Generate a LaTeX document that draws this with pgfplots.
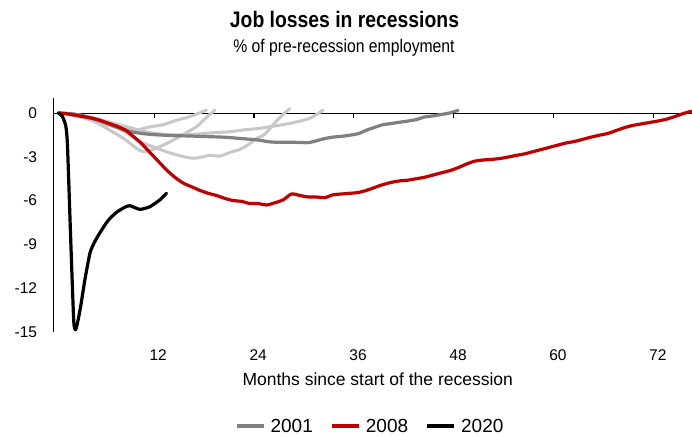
\documentclass[border=0pt]{standalone}
\usepackage{pgfplots}
\pgfplotsset{compat=1.18}
\usepackage{fontspec}
\setmainfont{Liberation Sans}
\newfontfamily\condfont{Liberation Sans}[FakeStretch=0.86]
\definecolor{lgray}{RGB}{200,200,200}
\definecolor{dgray}{RGB}{128,128,128}
\definecolor{ered}{RGB}{192,0,0}
\begin{document}
\begin{tikzpicture}
\path[use as bounding box] (-53.3pt,-104pt) rectangle (638.7pt,332pt);
\begin{axis}[
  at={(0pt,0pt)}, anchor=south west,
  scale only axis, width=638.7pt, height=233.6pt,
  xmin=-0.6, xmax=76.1, ymin=-15, ymax=1,
  clip=false,
  axis lines*=left,
  x axis line style={draw=none},
  y axis line style={black, line width=0.9pt},
  xtick={12,24,36,48,60,72},
  ytick={-15,-12,-9,-6,-3,0},
  tick style={draw=none},
  /pgf/number format/assume math mode=true,
  ticklabel style={font=\fontsize{15.5}{18}\selectfont},
  xticklabel style={anchor=north, inner sep=0pt, yshift=-17pt},
  yticklabel style={anchor=east, inner sep=0pt, xshift=-16pt},
  extra y ticks={0}, extra y tick labels={},
  extra y tick style={grid=major, major grid style={black, line width=0.9pt}},
  xlabel={Months since start of the recession},
  xlabel style={font=\fontsize{17.5}{20}\selectfont, at={(axis description cs:0.508,0)}, anchor=base, yshift=-53pt},
  legend columns=3,
  legend style={at={(axis description cs:0.4943,-0.404)}, anchor=center, draw=none, fill=none,
    inner sep=0pt, font=\fontsize{19}{22}\selectfont,
    nodes={inner sep=0pt, anchor=west},
    /tikz/every odd column/.append style={column sep=5pt},
    /tikz/every even column/.append style={column sep=17pt}},
  legend image code/.code={\draw[#1, line width=4pt, line cap=butt] (0pt,0pt) -- (27pt,0pt);},
  every axis plot/.append style={line cap=round, line join=round},
]
% positions of the x-axis tick marks on the zero line
\coordinate (tka) at (axis cs:11.5,0);
\coordinate (tkb) at (axis cs:23.5,0);
\coordinate (tkc) at (axis cs:35.5,0);
\coordinate (tkd) at (axis cs:47.5,0);
\coordinate (tke) at (axis cs:59.5,0);
\coordinate (tkf) at (axis cs:71.5,0);
% light gray: earlier recessions
\addplot[lgray, line width=3pt, smooth, forget plot] coordinates {
(0,0)(2,-0.15)(4,-0.45)(6,-0.85)(8,-1.1)(9.5,-1.15)(11,-0.95)(12.6,-0.8)(14.2,-0.5)(15.8,-0.25)(17.8,0.2)};
\addplot[lgray, line width=3pt, smooth, forget plot] coordinates {
(0,0)(2,-0.2)(4,-0.5)(5.8,-1.05)(7.8,-1.73)(9.4,-2.42)(10.2,-2.65)(11.4,-2.5)(12.6,-2.2)(13.8,-1.85)(15.2,-1.4)(16.6,-0.94)(17.8,-0.3)(18.8,0.2)};
\addplot[lgray, line width=3pt, smooth, forget plot] coordinates {
(0,0)(2,-0.1)(4,-0.3)(6,-0.7)(8,-1.3)(10,-2.0)(12,-2.45)(13.8,-2.8)(16.2,-3.1)(18.2,-2.9)(19.4,-2.95)(20.6,-2.7)(21.8,-2.5)(23,-2.1)(23.8,-1.75)(24.8,-1.45)(25.8,-0.8)(26.8,-0.2)(27.8,0.3)};
\addplot[lgray, line width=3pt, smooth, forget plot] coordinates {
(0,0)(2,-0.1)(4,-0.3)(6,-0.6)(8.6,-1.0)(10.6,-1.3)(12.6,-1.45)(14.6,-1.5)(16.6,-1.45)(18.6,-1.35)(20.6,-1.28)(22.4,-1.15)(24.2,-1.05)(25.4,-0.94)(27.8,-0.71)(30.2,-0.36)(31.8,0.2)};
% 2001
\addplot[dgray, line width=3.2pt, smooth] coordinates {
(0,0)(2,-0.08)(4,-0.36)(6,-0.75)(8,-1.18)(10,-1.4)(12,-1.5)(14,-1.55)(16,-1.58)(18,-1.62)(20,-1.66)(22,-1.75)(24,-1.85)(25,-1.95)(26,-2.0)(28,-2.0)(30,-2.03)(31,-1.9)(32,-1.75)(33,-1.65)(34,-1.6)(35,-1.52)(36,-1.42)(37,-1.18)(38,-0.98)(39,-0.8)(40,-0.72)(41,-0.63)(42,-0.55)(43,-0.45)(44,-0.27)(45,-0.2)(46,-0.1)(47,0.0)(48,0.18)};
\addlegendentry{2001}
% 2008
\addplot[ered, line width=3.2pt, smooth] coordinates {
(0,0)(1,-0.05)(2,-0.15)(3,-0.25)(4,-0.35)(5,-0.5)(6,-0.7)(7,-0.9)(8,-1.15)(9,-1.6)(10,-2.1)(11,-2.7)(12,-3.3)(13,-3.9)(14,-4.4)(15,-4.8)(16,-5.05)(17,-5.3)(18,-5.5)(19,-5.65)(20,-5.85)(21,-6.0)(22,-6.05)(23,-6.2)(24,-6.2)(25,-6.3)(26,-6.15)(27,-5.95)(28,-5.55)(29,-5.65)(30,-5.75)(31,-5.75)(32,-5.8)(33,-5.6)(34,-5.55)(35,-5.5)(36,-5.45)(37,-5.3)(38,-5.1)(39,-4.9)(40,-4.75)(41,-4.65)(42,-4.6)(43,-4.5)(44,-4.4)(45,-4.25)(46,-4.1)(47,-3.95)(48,-3.75)(49,-3.5)(50,-3.3)(51,-3.22)(52,-3.18)(53,-3.12)(54,-3.02)(55,-2.9)(56,-2.8)(57,-2.65)(58,-2.5)(59,-2.35)(60,-2.2)(61,-2.05)(62,-1.95)(63,-1.8)(64,-1.65)(65,-1.52)(66,-1.4)(67,-1.2)(68,-1.0)(69,-0.85)(70,-0.75)(71,-0.65)(72,-0.55)(73,-0.43)(74,-0.25)(75,-0.05)(76,0.12)};
\addlegendentry{2008}
% 2020
\addplot[black, line width=3.2pt, smooth, tension=0.35] coordinates {
(0,0)(0.5,-0.25)(0.9,-0.9)(1.1,-2.2)(1.5,-8.8)(1.85,-14.2)(2.05,-14.85)(2.3,-14.4)(2.7,-13.2)(3.2,-11.4)(3.8,-9.6)(4.3,-8.9)(5,-8.2)(6,-7.35)(7,-6.8)(8,-6.45)(8.6,-6.35)(9.8,-6.6)(11,-6.42)(12.2,-5.95)(13,-5.5)};
\addlegendentry{2020}
\end{axis}
\foreach \t in {tka,tkb,tkc,tkd,tke,tkf}{
  \draw[black, line width=1.1pt] (\t) -- ++(0pt,-5.5pt);
}
\node[font=\condfont\bfseries\fontsize{22.5}{26}\selectfont, anchor=base, inner sep=0pt] at (291.2pt,304pt) {Job losses in recessions};
\node[font=\condfont\fontsize{18.3}{21}\selectfont, anchor=base, inner sep=0pt] at (290.7pt,279pt) {\% of pre-recession employment};
\end{tikzpicture}
\end{document}
